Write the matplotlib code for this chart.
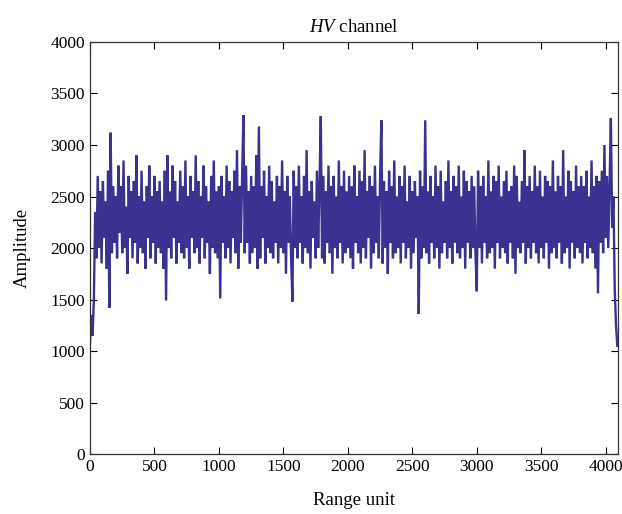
import numpy as np
import matplotlib
matplotlib.use("Agg")
import matplotlib.pyplot as plt

step = 10
amp_r00 = [1080, 1350, 1150, 1500, 2350, 1900, 2700, 2000, 2550, 1850, 2650, 2100, 2450, 1800, 2750, 1420, 3120, 1950, 2600, 2050]
amp_r01 = [2500, 1900, 2800, 2150, 2600, 1950, 2850, 2000, 2400, 1750, 2700, 2100, 2550, 1900, 2650, 2050, 2900, 1850, 2500, 2000]
amp_r02 = [2750, 1950, 2450, 1800, 2600, 2100, 2800, 1900, 2500, 2050, 2700, 1850, 2550, 2000, 2650, 1950, 2450, 1800, 2750, 1490]
amp_r03 = [2900, 2000, 2550, 1900, 2800, 2100, 2650, 1850, 2450, 2050, 2750, 1950, 2600, 1900, 2850, 2000, 2500, 1800, 2700, 2100]
amp_r04 = [2550, 1950, 2900, 2000, 2650, 1850, 2500, 2100, 2800, 1900, 2600, 2050, 2450, 1750, 2700, 2000, 2850, 1950, 2550, 1900]
amp_r05 = [2600, 1510, 2700, 2050, 2500, 1900, 2800, 2000, 2650, 1850, 2550, 2100, 2750, 1950, 2950, 1800, 2600, 2050, 2700, 3290]
amp_r06 = [1950, 2800, 2050, 2550, 1850, 2700, 1950, 2600, 2000, 2900, 1800, 3180, 1900, 2600, 2100, 2750, 1850, 2500, 2000, 2800]
amp_r07 = [1950, 2650, 1900, 2450, 2050, 2700, 1850, 2600, 2000, 2850, 1950, 2550, 1750, 2700, 2050, 2500, 1900, 1480, 2750, 2000]
amp_r08 = [2600, 1900, 2800, 2050, 2500, 1850, 2700, 2000, 2950, 1950, 2550, 1800, 2650, 2100, 2450, 1900, 2750, 2000, 2600, 3280]
amp_r09 = [1900, 2700, 1850, 2550, 2050, 2800, 1950, 2600, 1750, 2700, 2000, 2500, 1900, 2850, 2050, 2600, 1850, 2750, 1950, 2550]
amp_r10 = [2000, 2700, 1900, 2600, 1800, 2800, 2050, 2500, 1950, 2750, 1850, 2650, 2000, 2950, 1900, 2550, 2100, 2700, 1800, 2600]
amp_r11 = [1950, 2800, 2050, 2500, 1900, 2700, 3240, 1850, 2650, 2000, 2550, 1750, 2750, 2050, 2600, 1900, 2850, 1950, 2500, 2000]
amp_r12 = [2700, 1850, 2600, 2050, 2800, 1900, 2450, 2000, 2700, 1800, 2550, 1950, 2650, 2100, 2500, 1360, 2750, 1900, 2600, 2000]
amp_r13 = [3240, 1950, 2550, 1850, 2700, 2050, 2500, 1900, 2800, 2000, 2600, 1800, 2750, 1950, 2450, 2050, 2650, 1900, 2850, 2000]
amp_r14 = [2550, 1850, 2700, 2050, 2600, 1950, 2800, 1900, 2500, 2000, 2750, 1800, 2650, 2050, 2550, 1900, 2700, 2000, 2600, 1950]
amp_r15 = [1580, 2750, 2000, 2600, 1850, 2700, 2050, 2500, 1900, 2850, 1950, 2550, 2000, 2700, 1800, 2650, 2050, 2800, 1900, 2500]
amp_r16 = [2000, 2650, 1950, 2750, 1850, 2550, 2050, 2600, 1900, 2800, 1750, 2700, 2000, 2450, 1950, 2650, 2050, 2950, 1850, 2600]
amp_r17 = [2000, 2700, 1900, 2550, 2050, 2800, 1950, 2600, 1850, 2750, 2000, 2500, 1900, 2700, 2050, 2650, 1800, 2600, 1950, 2850]
amp_r18 = [2000, 2550, 1900, 2700, 2050, 2600, 1850, 2950, 1950, 2500, 2000, 2750, 1800, 2650, 2050, 2550, 1900, 2800, 2000, 2600]
amp_r19 = [1950, 2700, 1850, 2600, 2050, 2750, 1900, 2500, 2000, 2850, 1950, 2600, 1800, 2700, 1560, 2650, 2050, 2750, 1950, 3000]
amp_r20 = [2100, 2700, 2000, 2600, 3260, 2200, 2500, 1600, 1250, 1050]

amplitude = (amp_r00 + amp_r01 + amp_r02 + amp_r03 + amp_r04 + amp_r05 + amp_r06
             + amp_r07 + amp_r08 + amp_r09 + amp_r10 + amp_r11 + amp_r12 + amp_r13
             + amp_r14 + amp_r15 + amp_r16 + amp_r17 + amp_r18 + amp_r19 + amp_r20)
range_unit = np.arange(len(amplitude)) * step

xticks = [0, 500, 1000, 1500, 2000, 2500, 3000, 3500, 4000]
yticks = [0, 500, 1000, 1500, 2000, 2500, 3000, 3500, 4000]

plt.rcParams['font.family'] = ['Liberation Serif', 'DejaVu Serif']
plt.rcParams['mathtext.fontset'] = 'custom'
plt.rcParams['mathtext.it'] = 'Liberation Serif:italic'
plt.rcParams['mathtext.rm'] = 'Liberation Serif'

fig = plt.figure(figsize=(6.22, 5.14), dpi=100)
ax = fig.add_axes([0.1447, 0.1167, 0.849, 0.8016])
ax.plot(range_unit, amplitude, color='#393290', linewidth=1.7, solid_joinstyle='miter')
ax.set_xlim(0, 4096)
ax.set_ylim(0, 4000)
ax.set_xticks(xticks)
ax.set_yticks(yticks)
ax.tick_params(direction='in', top=True, right=True, length=5, width=0.8, labelsize=12.5)
for s in ax.spines.values():
    s.set_linewidth(0.9)
    s.set_color('#333333')
ax.set_xlabel('Range unit', fontsize=13.5, labelpad=12)
ax.set_ylabel('Amplitude', fontsize=13.5, labelpad=14)
ax.set_title(r'$HV$ channel', fontsize=13.5, pad=7)
fig.savefig('out.png', dpi=100)
